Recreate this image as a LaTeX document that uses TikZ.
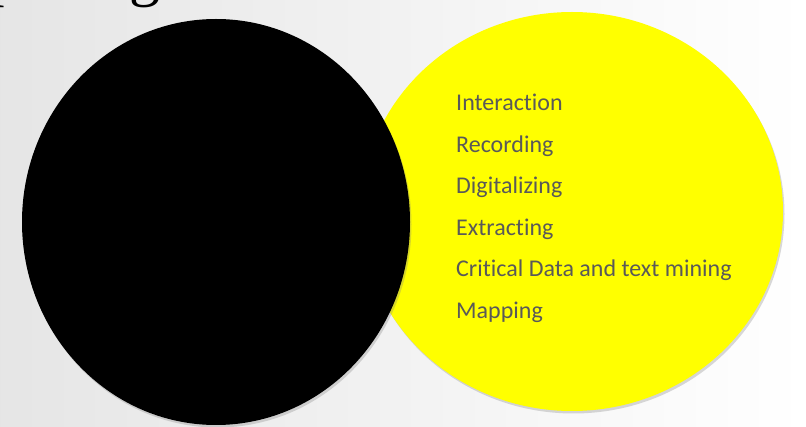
\documentclass[tikz,border=0pt]{standalone}
\usepackage{fontspec}
\setmainfont{Liberation Serif}
\newfontfamily\itemfont[Ligatures=NoCommon]{Carlito}
\usetikzlibrary{shapes.geometric,shadows}
\definecolor{textgray}{HTML}{595959}
\definecolor{setyellow}{HTML}{FFFF00}
\tikzset{
  setshape/.style={ellipse, inner sep=0pt, drop shadow={shadow xshift=1.5pt, shadow yshift=-2.5pt, opacity=.3}},
  itemtext/.style={anchor=base west, inner sep=0pt, text=textgray, font=\itemfont\fontsize{24}{28}\selectfont},
  headtext/.style={anchor=base west, inner sep=0pt, font=\fontsize{62}{70}\selectfont}
}
\begin{document}
\begin{tikzpicture}[x=1pt,y=-1pt]
  \useasboundingbox (0,0) rectangle (806,427);
  \clip (0,0) rectangle (806,427);
  \shade[left color=black!10, right color=white] (0,0) rectangle (806,427);

% title, cut off at the top
\node[headtext] (headp) at (-11,-5){p};
\node[headtext] (headg) at (129,-5){g};

% the two sets
\node[setshape, fill=setyellow, minimum width=422pt, minimum height=399pt] (yellowset) at (572,211.5){};
\node[setshape, fill=black, minimum width=388pt, minimum height=406pt] (blackset) at (216,222){};

% steps
\node[itemtext] (interaction) at (456,111){Interaction};
\node[itemtext] (recording) at (456,152.5){Recording};
\node[itemtext] (digitalizing) at (456,194){Digitalizing};
\node[itemtext] (extracting) at (456,235.5){Extracting};
\node[itemtext] (mining) at (456,277){Critical Data and text mining};
\node[itemtext] (mapping) at (456,318.5){Mapping};
\end{tikzpicture}
\end{document}
